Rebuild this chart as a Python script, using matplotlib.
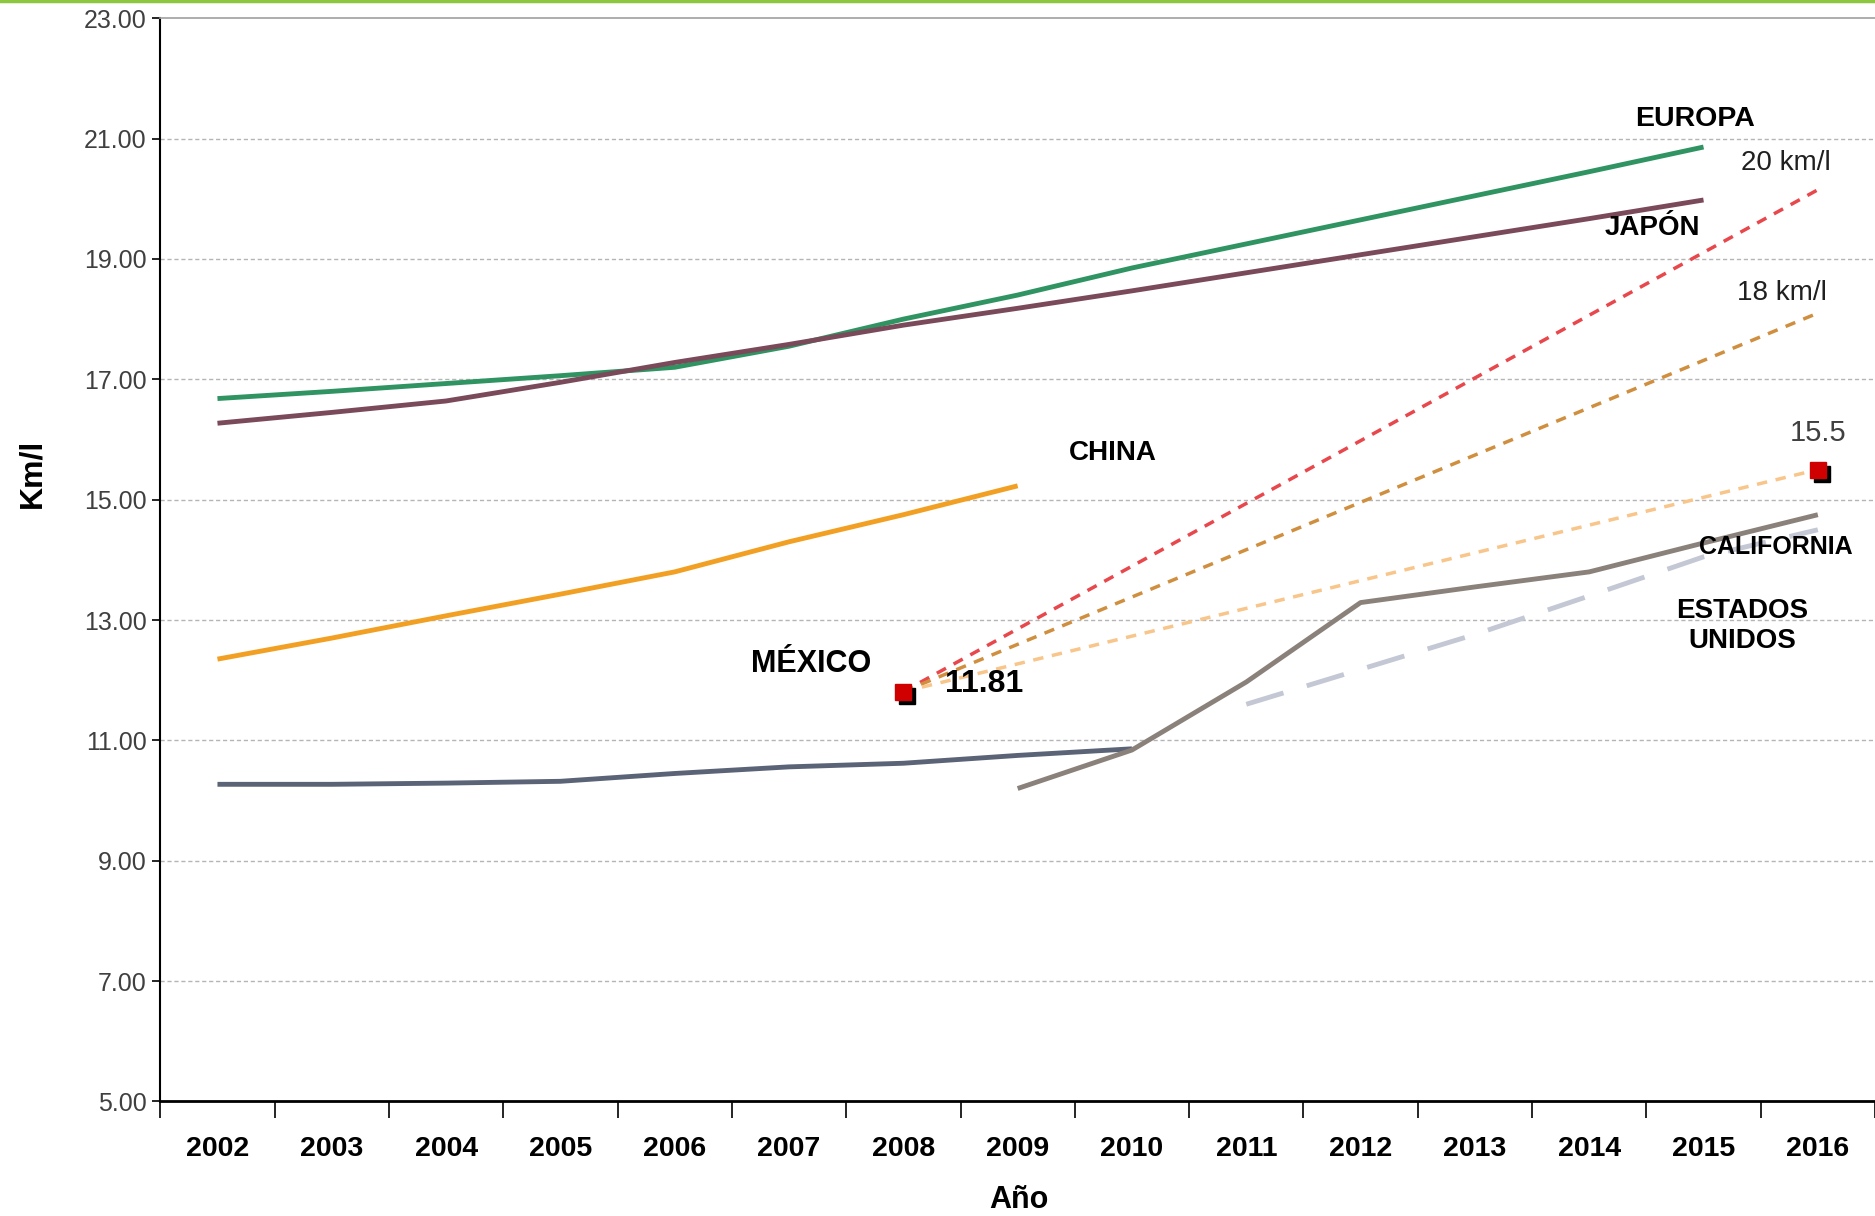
import numpy as np
import matplotlib
matplotlib.use('Agg')
import matplotlib.pyplot as plt
import matplotlib.transforms as mtransforms
from matplotlib.lines import Line2D

nan = np.nan
years = ['2002', '2003', '2004', '2005', '2006', '2007', '2008', '2009',
         '2010', '2011', '2012', '2013', '2014', '2015', '2016']

europa = [16.68, 16.8, 16.93, 17.06, 17.2, 17.55, 18.0, 18.4, 18.85,
          19.25, 19.65, 20.05, 20.45, 20.86, nan]
japon = [16.27, 16.45, 16.64, 16.95, 17.28, 17.58, 17.9, 18.18, 18.47,
         18.77, 19.07, 19.37, 19.67, 19.98, nan]
china = [12.35, 12.7, 13.07, 13.43, 13.8, 14.3, 14.75, 15.23,
         nan, nan, nan, nan, nan, nan, nan]
usa = [10.27, 10.27, 10.29, 10.32, 10.45, 10.56, 10.62, 10.75, 10.86,
       nan, nan, nan, nan, nan, nan]
usa_goal = [nan, nan, nan, nan, nan, nan, nan, nan, nan,
            11.6, 12.18, 12.76, 13.4, 14.05, 14.5]
california = [nan, nan, nan, nan, nan, nan, nan, 10.2, 10.84,
              11.97, 13.29, 13.55, 13.8, 14.28, 14.75]

mexico_year = ['2008', '2016']
mexico_20 = [11.81, 20.15]
mexico_18 = [11.81, 18.1]
mexico_155 = [11.81, 15.5]

fig = plt.figure(figsize=(18.75, 12.16), dpi=100)
ax = fig.add_axes([0.0855, 0.0942, 0.9145, 0.8908])

x = np.arange(len(years))
ax.plot(x, europa, color='#2F9462', lw=3.5, solid_capstyle='butt')
ax.plot(x, japon, color='#7B4A5A', lw=3.5, solid_capstyle='butt')
ax.plot(x, china, color='#F2A023', lw=3.5, solid_capstyle='butt')
ax.plot(x, usa, color='#5B6377', lw=3.5, solid_capstyle='butt')
ax.plot(x, california, color='#8A817A', lw=3.5, solid_capstyle='butt')
ax.plot(x, usa_goal, color='#C4C8D4', lw=3.5, dashes=(8, 5))

mx = [years.index(y) for y in mexico_year]
ax.plot(mx, mexico_20, color='#E8474C', lw=2.5, dashes=(3, 2.5))
ax.plot(mx, mexico_18, color='#D08F3F', lw=2.5, dashes=(3, 2.5))
ax.plot(mx, mexico_155, color='#F8C58A', lw=2.5, dashes=(3, 2.5))

# red squares with a black shadow
mex_pts = [mexico_20[0], mexico_155[1]]
shadow = mtransforms.offset_copy(ax.transData, fig=fig, x=4, y=-4, units='dots')
ax.plot(mx, mex_pts, ls='none', marker='s', ms=12, color='black',
        transform=shadow, zorder=5)
ax.plot(mx, mex_pts, ls='none', marker='s', ms=12, color='#D00000',
        mec='#D00000', zorder=6)

ax.set_xlim(-0.5, 14.5)
ax.set_ylim(5, 23)
ax.set_yticks(np.arange(5, 23.1, 2))
ax.set_yticklabels(['%.2f' % v for v in np.arange(5, 23.1, 2)])
ax.set_xticks(x)
ax.set_xticklabels(years)
ax.set_xticks(np.arange(-0.5, 14.6, 1), minor=True)
ax.tick_params(axis='x', which='major', length=0, pad=25)
ax.tick_params(axis='x', which='minor', length=12, width=1.2, direction='out')
ax.tick_params(axis='y', length=6, width=1.2, pad=4)

narrow = ['Liberation Sans Narrow', 'Liberation Sans']
for lab in ax.get_yticklabels():
    lab.set_family(narrow)
    lab.set_fontsize(18)
    lab.set_color('#404040')
for lab in ax.get_xticklabels():
    lab.set_family('Liberation Sans')
    lab.set_fontsize(20.5)
    lab.set_fontweight('bold')

for v in np.arange(7, 23, 2):
    ax.axhline(v, color='#B5B5B5', lw=1, dashes=(3, 2), zorder=0)

ax.spines['right'].set_visible(False)
ax.spines['top'].set_color('#A0A0A0')
ax.spines['top'].set_linewidth(1.2)
ax.spines['left'].set_linewidth(1.5)
ax.spines['bottom'].set_linewidth(2)

lbl = dict(family='Liberation Sans', fontweight='bold', ha='center', va='center')
ax.text(12.93, 21.33, 'EUROPA', fontsize=20.5, **lbl)
ax.text(12.55, 19.52, 'JAPÓN', fontsize=20, **lbl)
ax.text(7.83, 15.77, 'CHINA', fontsize=20, **lbl)
ax.text(5.19, 12.27, 'MÉXICO', fontsize=22, **lbl)
ax.text(6.71, 11.93, '11.81', fontsize=23, **lbl)
ax.text(13.63, 14.22, 'CALIFORNIA', fontsize=18, **lbl)
ax.text(13.34, 12.9, 'ESTADOS\nUNIDOS', fontsize=20, linespacing=1.2, **lbl)

thin = dict(family=narrow, ha='center', va='center', color='#202020')
ax.text(13.72, 20.6, '20 km/l', fontsize=20, **thin)
ax.text(13.69, 18.43, '18 km/l', fontsize=20, **thin)
ax.text(14.0, 16.11, '15.5', fontsize=21, **dict(thin, color='#404040'))

fig.text(0.0175, 0.611, 'Km/l', rotation=90, fontsize=23, fontweight='bold',
         family='Liberation Sans', ha='center', va='center')
fig.text(0.5435, 0.013, 'Año', fontsize=22, fontweight='bold',
         family='Liberation Sans', ha='center', va='center')

# green strip at the top of the picture
fig.add_artist(Line2D([0, 1], [0.999, 0.999], transform=fig.transFigure,
                      color='#8DC63F', lw=2.5))

fig.savefig('out.png', dpi=100)
